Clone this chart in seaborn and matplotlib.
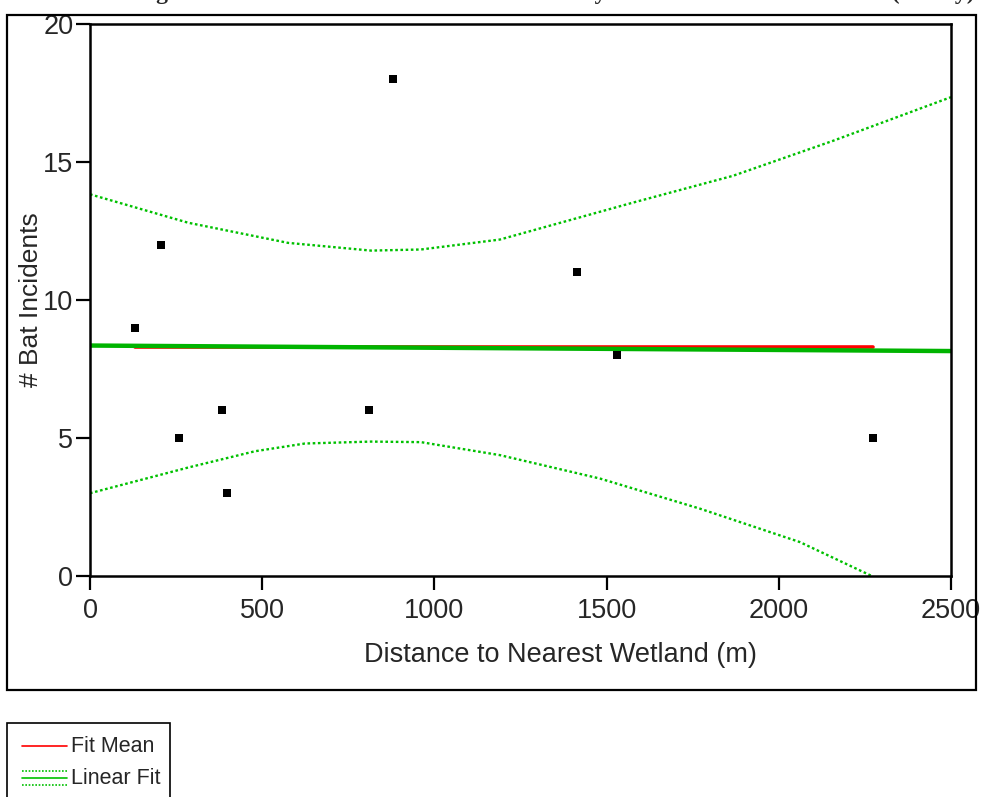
import numpy as np
import pandas as pd
import matplotlib
matplotlib.use("Agg")
import matplotlib.pyplot as plt
from matplotlib.patches import Rectangle
from matplotlib.lines import Line2D
import seaborn as sns

distance = [131, 206, 258, 383, 398, 810, 880, 1414, 1530, 2273]
incidents = [9, 12, 5, 6, 3, 6, 18, 11, 8, 5]

# fit mean (red) spans the data range
mean_x = [131, 2273]
mean_y = [8.3, 8.3]

# linear fit (green) over the whole axis
fit_x = [0, 2500]
fit_y = [8.35, 8.15]

# confidence curves (dotted green)
upper_x = [0, 285, 575, 816, 961, 1190, 1577, 1867, 2158, 2500]
upper_y = [13.83, 12.8, 12.07, 11.79, 11.83, 12.19, 13.53, 14.5, 15.77, 17.35]
lower_x = [0, 285, 479, 624, 816, 961, 1190, 1481, 1771, 2061, 2270]
lower_y = [3.0, 3.93, 4.52, 4.8, 4.87, 4.85, 4.38, 3.53, 2.44, 1.23, 0.0]

x_ticks = [0, 500, 1000, 1500, 2000, 2500]
y_ticks = [0, 5, 10, 15, 20]

title = "Figure 11. Variation of # of incidents of bats by distance to nearest wetland (survey)"

sns.set_style("white")
plt.rcParams['font.family'] = ['Liberation Sans', 'DejaVu Sans']

W, H = 982, 797
fig = plt.figure(figsize=(W / 100, H / 100), dpi=100)
ax = fig.add_axes([90 / W, 1 - 576 / H, 861 / W, 552 / H])

green = "#00c000"
sns.lineplot(x=upper_x, y=upper_y, ax=ax, color=green, lw=1.7, dashes=False,
             linestyle=(0, (1.1, 1.1)), sort=False)
sns.lineplot(x=lower_x, y=lower_y, ax=ax, color=green, lw=1.7, dashes=False,
             linestyle=(0, (1.1, 1.1)), sort=False)
sns.lineplot(x=mean_x, y=mean_y, ax=ax, color="#ff0000", lw=2.6)
sns.lineplot(x=fit_x, y=fit_y, ax=ax, color="#00b400", lw=3.2)
sns.scatterplot(x=distance, y=incidents, ax=ax, marker="s", s=28, color="black",
                edgecolor="black", linewidth=0, zorder=5)

ax.set_xlim(0, 2500)
ax.set_ylim(0, 20)
ax.set_xticks(x_ticks)
ax.set_yticks(y_ticks)
ax.tick_params(axis="both", direction="out", length=10, width=1.6,
               labelsize=19.5, color="black", bottom=True, left=True)
ax.tick_params(axis="x", pad=6)
ax.tick_params(axis="y", pad=2)
for s in ax.spines.values():
    s.set_visible(True)
    s.set_color("black")
    s.set_linewidth(1.8)
ax.set_xlabel("Distance to Nearest Wetland (m)", fontsize=19.5, va="center")
ax.set_ylabel("# Bat Incidents", fontsize=19, va="center")
ax.xaxis.set_label_coords((560 - 90) / 861, (576 - 655) / 552)
ax.yaxis.set_label_coords((31 - 90) / 861, 0.5)

# outer frame around the plot
fig.patches.append(Rectangle((7 / W, 1 - 690 / H), 969 / W, 675 / H,
                             transform=fig.transFigure, fill=False,
                             edgecolor="black", lw=1.6))

# title, mostly cut off at the top edge as in the source
fig.text(975 / W, 1 + 1 / H, title, ha="right", va="baseline",
         fontsize=17, fontweight="bold", family="Liberation Serif")

# legend box below the frame
fig.patches.append(Rectangle((7 / W, 1 - 800 / H), 163 / W, 77 / H,
                             transform=fig.transFigure, fill=False,
                             edgecolor="black", lw=1.2))
fig.lines.append(Line2D([22 / W, 67 / W], [1 - 746 / H] * 2, transform=fig.transFigure,
                        color="#ff0000", lw=1.2))
fig.lines.append(Line2D([22 / W, 67 / W], [1 - 778 / H] * 2, transform=fig.transFigure,
                        color=green, lw=1.2))
for yy in (771, 785):
    fig.lines.append(Line2D([22 / W, 67 / W], [1 - yy / H] * 2, transform=fig.transFigure,
                            color=green, lw=1.2, linestyle=(0, (1, 1))))
fig.text(71 / W, 1 - 746 / H, "Fit Mean", fontsize=15.5, va="center")
fig.text(71 / W, 1 - 778 / H, "Linear Fit", fontsize=15.5, va="center")

fig.savefig("out.png", dpi=100, facecolor="white")
